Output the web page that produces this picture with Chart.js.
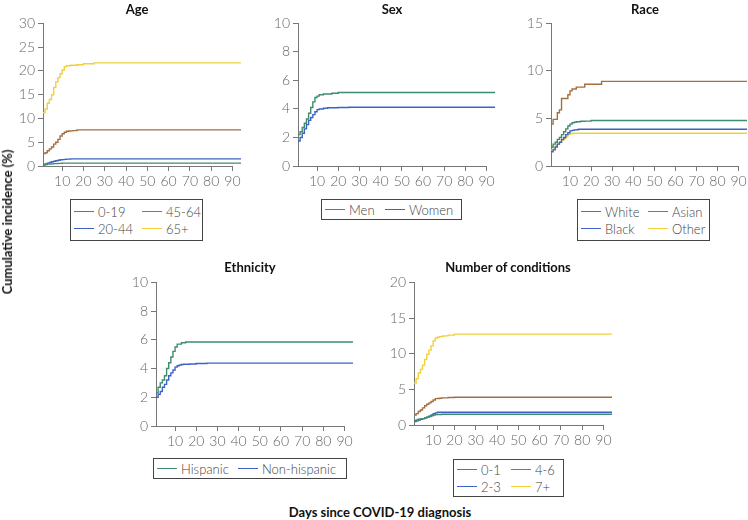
<!DOCTYPE html>
<html>
<head>
<meta charset="utf-8">
<script src="https://cdn.jsdelivr.net/npm/chart.js@4.4.1/dist/chart.umd.min.js"></script>
<style>
  html, body { margin: 0; padding: 0; background: #fff; }
  body { width: 748px; height: 520px; position: relative; overflow: hidden; font-family: Lato, "Open Sans", sans-serif; }
  canvas { position: absolute; }
  .title { position: absolute; transform: translate(-50%, -50%); font-weight: bold; font-size: 13px; color: #111; white-space: nowrap; }
  .ytitle { position: absolute; transform: translate(-50%, -50%) rotate(-90deg); font-weight: bold; font-size: 13px; color: #111; white-space: nowrap; }
  .legend { position: absolute; box-sizing: border-box; border: 1px solid #444; display: grid; grid-auto-flow: column; align-content: center; padding-left: 3px; font-size: 13px; font-weight: 300; color: #444; }
  .legend .item { display: flex; align-items: center; height: 17px; white-space: nowrap; }
  .legend .sw { flex: 0 0 20px; width: 20px; height: 0; border-top: 1.5px solid; margin-right: 4px; }
</style>
</head>
<body>
<script>
"use strict";
// day grid shared by every curve (step points)
var days = [1, 2, 3, 4, 5, 6, 7, 8, 9, 10, 11, 12, 13, 14, 15, 17, 20, 25, 94];
var xTicks = [10, 20, 30, 40, 50, 60, 70, 80, 90];

// Age
var age0_19  = [0.2, 0.3, 0.4, 0.4, 0.45, 0.5, 0.5, 0.55, 0.55, 0.6, 0.6, 0.6, 0.6, 0.6, 0.6, 0.6, 0.6, 0.6, 0.6];
var age20_44 = [0.3, 0.45, 0.6, 0.75, 0.9, 1.0, 1.1, 1.2, 1.3, 1.35, 1.4, 1.45, 1.45, 1.5, 1.5, 1.5, 1.5, 1.5, 1.5];
var age45_64 = [2.6, 2.8, 3.2, 3.6, 4.0, 4.6, 5.0, 5.6, 6.3, 6.8, 7.1, 7.3, 7.35, 7.4, 7.45, 7.6, 7.6, 7.6, 7.6];
var age65    = [11.2, 12.0, 13.2, 14.0, 15.0, 16.5, 17.7, 18.6, 19.4, 20.2, 20.9, 21.1, 21.1, 21.2, 21.2, 21.3, 21.5, 21.7, 21.7];

// Sex
var men   = [2.2, 2.4, 2.7, 3.0, 3.3, 3.7, 4.1, 4.5, 4.8, 4.9, 5.0, 5.0, 5.05, 5.05, 5.05, 5.1, 5.15, 5.15, 5.15];
var women = [1.75, 2.0, 2.3, 2.6, 2.9, 3.2, 3.4, 3.6, 3.8, 3.95, 4.0, 4.0, 4.05, 4.05, 4.08, 4.08, 4.1, 4.12, 4.12];

// Race
var white = [2.0, 2.3, 2.5, 2.8, 3.0, 3.3, 3.6, 3.9, 4.2, 4.4, 4.55, 4.6, 4.65, 4.65, 4.7, 4.72, 4.78, 4.78, 4.78];
var black = [1.5, 1.7, 2.0, 2.3, 2.5, 2.8, 3.0, 3.3, 3.5, 3.7, 3.75, 3.8, 3.82, 3.87, 3.87, 3.87, 3.87, 3.87, 3.87];
var asian = [4.4, 4.9, 4.9, 5.6, 5.9, 7.1, 7.1, 7.1, 7.5, 7.9, 8.1, 8.1, 8.3, 8.3, 8.3, 8.6, 8.6, 8.9, 8.9];
var other = [1.7, 1.9, 2.1, 2.3, 2.5, 2.7, 2.9, 3.1, 3.3, 3.4, 3.42, 3.45, 3.45, 3.45, 3.45, 3.45, 3.45, 3.45, 3.45];

// Ethnicity
var hispanic    = [2.3, 2.7, 3.0, 3.2, 3.5, 4.0, 4.4, 4.8, 5.2, 5.5, 5.7, 5.7, 5.8, 5.8, 5.85, 5.85, 5.85, 5.85, 5.85];
var nonHispanic = [2.0, 2.2, 2.4, 2.7, 2.9, 3.2, 3.5, 3.7, 3.9, 4.1, 4.2, 4.25, 4.28, 4.3, 4.3, 4.32, 4.35, 4.38, 4.38];

// Number of conditions
var cond0_1 = [0.6, 0.7, 0.8, 0.85, 0.9, 1.0, 1.1, 1.2, 1.3, 1.4, 1.45, 1.47, 1.48, 1.5, 1.5, 1.5, 1.5, 1.5, 1.5];
var cond2_3 = [0.5, 0.6, 0.7, 0.8, 0.9, 1.0, 1.1, 1.25, 1.4, 1.6, 1.7, 1.78, 1.78, 1.78, 1.78, 1.78, 1.78, 1.78, 1.78];
var cond4_6 = [1.4, 1.6, 1.9, 2.1, 2.4, 2.7, 2.9, 3.1, 3.3, 3.5, 3.7, 3.72, 3.75, 3.8, 3.8, 3.85, 3.9, 3.9, 3.9];
var cond7   = [5.9, 6.5, 7.3, 7.8, 8.4, 9.2, 9.9, 10.5, 11.1, 11.8, 12.2, 12.3, 12.4, 12.45, 12.5, 12.6, 12.75, 12.75, 12.75];

var GREEN = "#3e8c6c", BLUE = "#3c63c4", BROWN = "#a46f40", YELLOW = "#f2cf3c";
var Y_W = 30, X_H = 26, PAD_T = 8, PAD_R = 4;
var tickFont = { family: "Lato", size: 14, weight: "300" };

// x axis line only runs up to the last tick, like the original figure
var xAxisLine = {
    id: "xAxisLine",
    afterDraw: function (chart) {
        var sx = chart.scales.x, c = chart.ctx;
        c.save();
        c.strokeStyle = "#777";
        c.lineWidth = 1;
        c.beginPath();
        c.moveTo(sx.left, Math.round(sx.top) + 0.5);
        c.lineTo(sx.getPixelForValue(xTicks[xTicks.length - 1]) + 0.5, Math.round(sx.top) + 0.5);
        c.stroke();
        c.restore();
    }
};

function addText(cls, text, x, y) {
    var d = document.createElement("div");
    d.className = cls;
    d.textContent = text;
    d.style.left = x + "px";
    d.style.top = y + "px";
    document.body.appendChild(d);
}

function addLegend(series, box, colW, rows) {
    var lg = document.createElement("div");
    lg.className = "legend";
    lg.style.left = box[0] + "px";
    lg.style.top = box[1] + "px";
    lg.style.width = box[2] + "px";
    lg.style.height = box[3] + "px";
    lg.style.gridTemplateRows = "repeat(" + rows + ", 17px)";
    lg.style.gridAutoColumns = colW + "px";
    series.forEach(function (s) {
        var it = document.createElement("div");
        it.className = "item";
        it.innerHTML = '<span class="sw" style="border-color:' + s[2] + '"></span>' + s[0];
        lg.appendChild(it);
    });
    document.body.appendChild(lg);
}

function panel(p) {
    var cv = document.createElement("canvas");
    var w = p.area[2] - p.area[0] + Y_W + PAD_R;
    var h = p.area[3] - p.area[1] + PAD_T + X_H;
    cv.width = w; cv.height = h;
    cv.style.left = (p.area[0] - Y_W) + "px";
    cv.style.top = (p.area[1] - PAD_T) + "px";
    document.body.appendChild(cv);

    new Chart(cv.getContext("2d"), {
        type: "line",
        data: {
            datasets: p.series.map(function (s) {
                return {
                    label: s[0],
                    data: days.map(function (d, i) { return { x: d, y: s[1][i] }; }),
                    borderColor: s[2],
                    borderWidth: 1.4,
                    pointRadius: 0,
                    stepped: true,
                    fill: false
                };
            })
        },
        plugins: [xAxisLine],
        options: {
            responsive: false,
            animation: false,
            layout: { padding: { top: PAD_T, right: PAD_R, left: 0, bottom: 0 } },
            plugins: { legend: { display: false }, tooltip: { enabled: false } },
            scales: {
                x: {
                    type: "linear", min: 1, max: 94,
                    afterBuildTicks: function (s) { s.ticks = xTicks.map(function (v) { return { value: v }; }); },
                    afterFit: function (s) { s.height = X_H; },
                    grid: { drawOnChartArea: false, tickLength: 5, color: "#777" },
                    border: { display: false },
                    ticks: { color: "#666", padding: 2, maxRotation: 0, autoSkip: false, font: tickFont }
                },
                y: {
                    min: 0, max: p.yMax,
                    ticks: { stepSize: p.yStep, color: "#666", padding: 3, font: tickFont },
                    afterFit: function (s) { s.width = Y_W; },
                    grid: { drawOnChartArea: false, tickLength: 5, color: "#777" },
                    border: { color: "#777", width: 1 }
                }
            }
        }
    });

    addText("title", p.title, p.titleXY[0], p.titleXY[1]);
    addLegend(p.series, p.legendBox, p.legendCol, p.legendRows);
}

panel({
    title: "Age", titleXY: [137, 9], area: [43, 20, 241, 166], yMax: 30, yStep: 5,
    series: [["0-19", age0_19, GREEN], ["20-44", age20_44, BLUE], ["45-64", age45_64, BROWN], ["65+", age65, YELLOW]],
    legendBox: [70, 199, 133, 42], legendCol: 68, legendRows: 2
});
panel({
    title: "Sex", titleXY: [392, 9], area: [298, 20, 495, 166], yMax: 10, yStep: 2,
    series: [["Men", men, GREEN], ["Women", women, BLUE]],
    legendBox: [321, 199, 141, 21], legendCol: 60, legendRows: 1
});
panel({
    title: "Race", titleXY: [645, 9], area: [551, 20, 747, 166], yMax: 15, yStep: 5,
    series: [["White", white, GREEN], ["Black", black, BLUE], ["Asian", asian, BROWN], ["Other", other, YELLOW]],
    legendBox: [577, 199, 133, 42], legendCol: 67, legendRows: 2
});
panel({
    title: "Ethnicity", titleXY: [250, 267], area: [156, 279, 353, 426], yMax: 10, yStep: 2,
    series: [["Hispanic", hispanic, GREEN], ["Non-hispanic", nonHispanic, BLUE]],
    legendBox: [153, 458, 194, 21], legendCol: 81, legendRows: 1
});
panel({
    title: "Number of conditions", titleXY: [508, 267], area: [414, 279, 612, 425], yMax: 20, yStep: 5,
    series: [["0-1", cond0_1, GREEN], ["2-3", cond2_3, BLUE], ["4-6", cond4_6, BROWN], ["7+", cond7, YELLOW]],
    legendBox: [453, 459, 111, 38], legendCol: 54, legendRows: 2
});

addText("ytitle", "Cumulative incidence (%)", 7, 222);
addText("title", "Days since COVID-19 diagnosis", 380, 512);
</script>
</body>
</html>
